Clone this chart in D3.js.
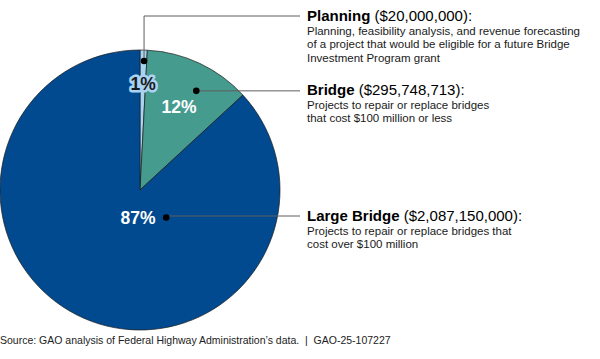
<!DOCTYPE html>
<html>
<head>
<meta charset="utf-8">
<script src="https://cdn.jsdelivr.net/npm/d3@7"></script>
<style>
  html, body { margin: 0; padding: 0; background: #fff; }
  svg { display: block; font-family: "Liberation Sans", Arial, Helvetica, sans-serif; }
</style>
</head>
<body>
<svg id="chart" width="600" height="359"></svg>
<script>
// ---- data ----
const categories = ["Planning", "Bridge", "Large Bridge"];
const amounts = [20000000, 295748713, 2087150000];
const amountLabels = ["($20,000,000):", "($295,748,713):", "($2,087,150,000):"];
const percentLabels = ["1%", "12%", "87%"];
const descriptions = [
  ["Planning, feasibility analysis, and revenue forecasting",
   "of a project that would be eligible for a future Bridge",
   "Investment Program grant"],
  ["Projects to repair or replace bridges",
   "that cost $100 million or less"],
  ["Projects to repair or replace bridges that",
   "cost over $100 million"]
];
const colors = ["#a9d3f3", "#459b8e", "#014a8f"];
const sourceText = "Source: GAO analysis of Federal Highway Administration\u2019s data.  |  GAO-25-107227";

// ---- layout ----
const W = 600, H = 359;
const cx = 140, cy = 190, R = 140;
const textX = 307;
const lineEndX = 300;
// annotation anchor (fraction within slice angle, radius)
const dotSpec = [{t: 0.6, r: 129}, {t: 0.6, r: 114}, {t: 0.285, r: 38}];
const labelY = [16, 90, 216];
const pctSpec = [{t: 0.55, r: 106}, {t: 0.5, r: 92}, {t: 0.0, r: 0, dx: -2, dy: 28}];

const svg = d3.select("#chart");
const g = svg.append("g").attr("transform", `translate(${cx},${cy})`);

const pie = d3.pie().sort(null).value(d => d)(amounts);
const arc = d3.arc().innerRadius(0).outerRadius(R);

g.selectAll("path.slice")
  .data(pie)
  .join("path")
  .attr("class", "slice")
  .attr("d", arc)
  .attr("fill", (d, i) => colors[i])
  .attr("stroke", "#1a1a1a")
  .attr("stroke-width", 0.7);

function polar(a, r) { return [r * Math.sin(a), -r * Math.cos(a)]; }

// leader lines + dots
pie.forEach((d, i) => {
  const s = dotSpec[i];
  const a = d.startAngle + (d.endAngle - d.startAngle) * s.t;
  const [x, y] = polar(a, s.r);
  const ly = labelY[i] - cy;
  const pts = (Math.abs(ly - y) > 1.5)
    ? [[x, y], [x, ly], [lineEndX - cx, ly]]
    : [[x, y], [lineEndX - cx, y]];
  g.append("path")
    .attr("d", d3.line()(pts))
    .attr("fill", "none")
    .attr("stroke", "#5e5e5e")
    .attr("stroke-width", 1);
  g.append("circle")
    .attr("cx", x).attr("cy", y).attr("r", 3.3)
    .attr("fill", "#000");
});

// percentage labels
pie.forEach((d, i) => {
  const s = pctSpec[i];
  const a = d.startAngle + (d.endAngle - d.startAngle) * s.t;
  let [x, y] = polar(a, s.r);
  if (s.dx !== undefined) { x = s.dx; y = s.dy; }
  const t = g.append("text")
    .attr("x", x).attr("y", y)
    .attr("text-anchor", "middle")
    .attr("dominant-baseline", "central")
    .attr("font-size", 17.5)
    .attr("font-weight", "bold")
    .text(percentLabels[i]);
  if (i === 0) {
    t.attr("fill", "#1a1a1a")
     .attr("stroke", colors[0])
     .attr("stroke-width", 5)
     .attr("stroke-linejoin", "round")
     .attr("paint-order", "stroke");
  } else {
    t.attr("fill", "#fff");
  }
});

// right-side labels
categories.forEach((c, i) => {
  const ty = labelY[i] + 5;
  const t = svg.append("text")
    .attr("x", textX).attr("y", ty)
    .attr("font-size", 15)
    .attr("fill", "#000");
  t.append("tspan").attr("font-weight", "bold").text(c + " ");
  t.append("tspan").text(amountLabels[i]);
  descriptions[i].forEach((line, j) => {
    svg.append("text")
      .attr("x", textX).attr("y", ty + 13.5 + j * 13.5)
      .attr("font-size", 11.5)
      .attr("fill", "#1a1a1a")
      .text(line);
  });
});

// source
svg.append("text")
  .attr("x", 0).attr("y", 344)
  .attr("font-size", 10.5)
  .attr("fill", "#222")
  .attr("xml:space", "preserve")
  .style("white-space", "pre")
  .text(sourceText);
</script>
</body>
</html>
